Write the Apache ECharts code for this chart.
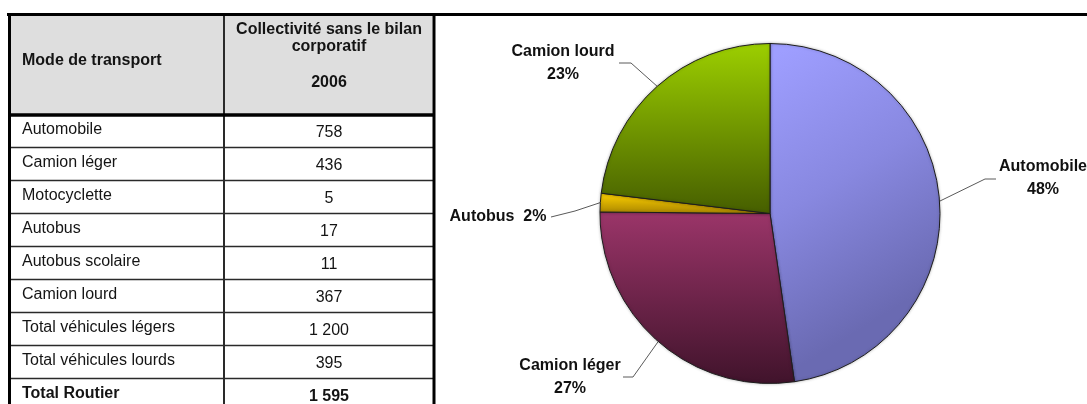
<!DOCTYPE html>
<html>
<head>
<meta charset="utf-8">
<script src="https://cdn.jsdelivr.net/npm/echarts@6/dist/echarts.min.js"></script>
<style>
html,body{margin:0;padding:0;background:#ffffff;}
#c{width:1087px;height:404px;}
</style>
</head>
<body>
<div id="c"></div>
<script>
// ---------- data ----------
const headerMode = 'Mode de transport';
const headerValueLines = ['Collectivité sans le bilan', 'corporatif', '2006'];
const modes = ['Automobile', 'Camion léger', 'Motocyclette', 'Autobus', 'Autobus scolaire',
  'Camion lourd', 'Total véhicules légers', 'Total véhicules lourds', 'Total Routier'];
const values2006 = ['758', '436', '5', '17', '11', '367', '1 200', '395', '1 595'];
const boldRows = [false, false, false, false, false, false, false, false, true];

const pieNames = ['Automobile', 'Camion léger', 'Autobus', 'Camion lourd'];
const pieValues = [758, 436, 28, 367];

// ---------- styling / layout ----------
const FONT = '"Liberation Sans", Arial, sans-serif';
const sliceColors = [
  {type: 'linear', x: 0.15, y: 0, x2: 1, y2: 0.7, colorStops: [
    {offset: 0, color: '#9e9eff'}, {offset: 0.5, color: '#8888e0'}, {offset: 1, color: '#6a6ab2'}]},
  {type: 'linear', x: 0, y: 0, x2: 0, y2: 1, colorStops: [
    {offset: 0, color: '#9b3569'}, {offset: 1, color: '#40132b'}]},
  {type: 'linear', x: 0, y: 0, x2: 0, y2: 1, colorStops: [
    {offset: 0, color: '#ffd200'}, {offset: 1, color: '#a88400'}]},
  {type: 'linear', x: 0, y: 0, x2: 0, y2: 1, colorStops: [
    {offset: 0, color: '#9ccf00'}, {offset: 1, color: '#465e00'}]}
];
const labelSpots = [
  {x: 1043, y: 178.5, elbow: [985, 179], end: [996, 179]},
  {x: 570, y: 377, elbow: [633, 377], end: [623, 377]},
  {x: 498, y: 217, elbow: [575, 211], end: [551, 217]},
  {x: 563, y: 63, elbow: [631, 63], end: [619, 63]}
];

const T = {left: 9.5, right: 434, colSep: 224, top: 14.5, headBottom: 115, rowTop0: 114.5, rowH: 33};

// ---------- table graphics ----------
const g = [];
g.push({type: 'rect', shape: {x: 11, y: 16, width: 421.5, height: 98}, style: {fill: '#dedede'}, silent: true});
// row lines
for (let i = 1; i < modes.length; i++) {
  const y = T.rowTop0 + i * T.rowH;
  g.push({type: 'line', shape: {x1: T.left, y1: y, x2: T.right, y2: y}, style: {stroke: '#2a2a2a', lineWidth: 1.5}, silent: true});
}
// column separator
g.push({type: 'line', shape: {x1: T.colSep, y1: T.top, x2: T.colSep, y2: 404}, style: {stroke: '#2a2a2a', lineWidth: 2}, silent: true});
// thick borders
g.push({type: 'line', shape: {x1: 7, y1: T.top, x2: 1087, y2: T.top}, style: {stroke: '#000', lineWidth: 3}, silent: true});
g.push({type: 'line', shape: {x1: T.left, y1: 13, x2: T.left, y2: 404}, style: {stroke: '#000', lineWidth: 3}, silent: true});
g.push({type: 'line', shape: {x1: T.right, y1: 13, x2: T.right, y2: 404}, style: {stroke: '#000', lineWidth: 3}, silent: true});
g.push({type: 'line', shape: {x1: T.left, y1: T.headBottom, x2: T.right, y2: T.headBottom}, style: {stroke: '#000', lineWidth: 3.5}, silent: true});

// header texts
g.push({type: 'text', silent: true, style: {text: headerMode, x: 22, y: 61, font: 'bold 16px ' + FONT, fill: '#141414', align: 'left', verticalAlign: 'middle', textAlign: 'left', textVerticalAlign: 'middle'}});
const headYs = [30, 46.5, 83];
headerValueLines.forEach(function (t, i) {
  g.push({type: 'text', silent: true, style: {text: t, x: 329, y: headYs[i], font: 'bold 16px ' + FONT, fill: '#141414', align: 'center', verticalAlign: 'middle', textAlign: 'center', textVerticalAlign: 'middle'}});
});
// body texts
modes.forEach(function (m, i) {
  const top = T.rowTop0 + i * T.rowH;
  const f = (boldRows[i] ? 'bold ' : '') + '16px ' + FONT;
  g.push({type: 'text', silent: true, style: {text: m, x: 22, y: top + 15.5, font: f, fill: '#141414', align: 'left', verticalAlign: 'middle', textAlign: 'left', textVerticalAlign: 'middle'}});
  g.push({type: 'text', silent: true, style: {text: values2006[i], x: 329, y: top + 18, font: f, fill: '#141414', align: 'center', verticalAlign: 'middle', textAlign: 'center', textVerticalAlign: 'middle'}});
});

// ---------- chart ----------
const chart = echarts.init(document.getElementById('c'), null, {renderer: 'canvas'});
chart.setOption({
  backgroundColor: '#ffffff',
  animation: false,
  graphic: g,
  series: [{
    type: 'pie',
    center: [770, 213.5],
    radius: 170,
    startAngle: 90,
    clockwise: true,
    percentPrecision: 0,
    avoidLabelOverlap: false,
    data: pieNames.map(function (n, i) {
      return {name: n, value: pieValues[i], itemStyle: {color: sliceColors[i]}};
    }),
    itemStyle: {borderColor: '#1e1e1e', borderWidth: 1, shadowBlur: 3, shadowColor: 'rgba(0,0,0,0.25)'},
    label: {
      show: true,
      position: 'outside',
      formatter: function (p) {
        return p.dataIndex === 2 ? p.name + '  ' + p.percent + '%' : p.name + '\n' + p.percent + '%';
      },
      fontFamily: FONT,
      fontWeight: 'bold',
      fontSize: 16,
      lineHeight: 23,
      color: '#111111',
      align: 'center'
    },
    labelLine: {show: true, length: 20, length2: 10, lineStyle: {color: '#5a5a5a', width: 1}},
    labelLayout: function (p) {
      const s = labelSpots[p.dataIndex];
      const a = p.labelLinePoints ? p.labelLinePoints[0] : s.elbow;
      return {x: s.x, y: s.y, align: 'center', verticalAlign: 'middle',
        labelLinePoints: [a, s.elbow, s.end]};
    },
    emphasis: {disabled: true}
  }]
});
</script>
</body>
</html>
